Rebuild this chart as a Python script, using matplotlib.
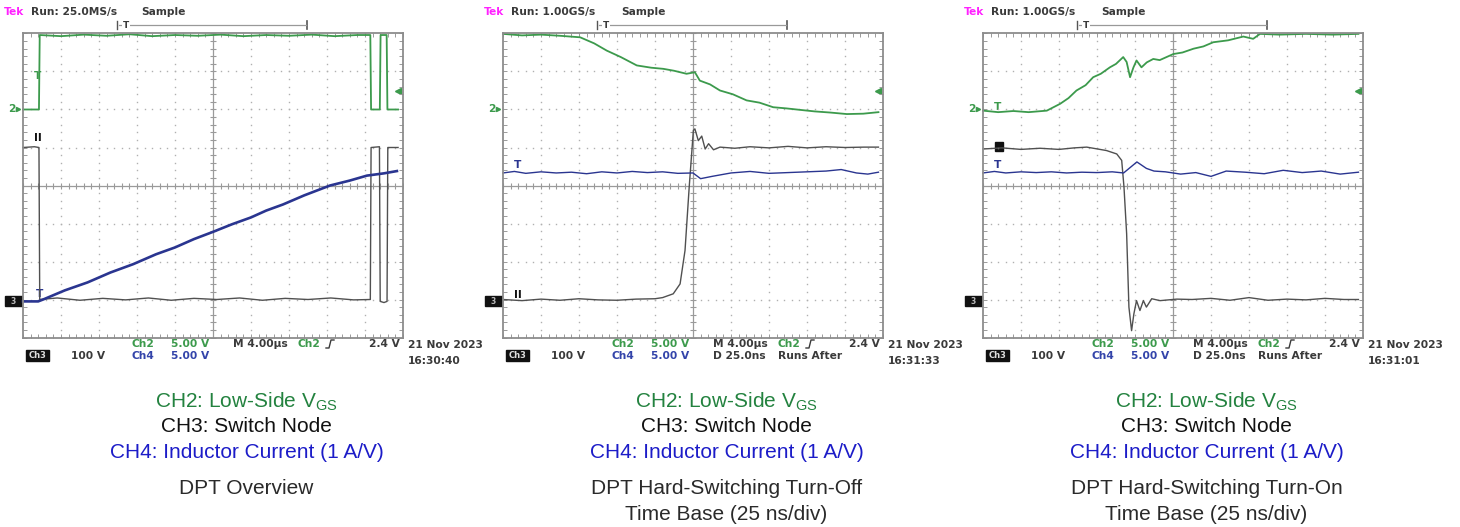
import matplotlib.pyplot as plt
import numpy as np
from matplotlib.patches import Rectangle

plt.rcParams['mathtext.fontset'] = 'custom'
plt.rcParams['mathtext.rm'] = 'Liberation Sans'

# ---- trace data, in scope divisions (x: 0..10, y: -4..4) ----
# panel 1: DPT overview
p1_ch2_x = [0.0, 0.42, 0.44, 1.0, 1.6, 2.2, 2.8, 3.4, 4.0, 4.6, 5.2, 5.8, 6.4, 7.0, 7.6, 8.2, 8.8,
            9.14, 9.16, 9.39, 9.41, 9.57, 9.59, 9.87]
p1_ch2_y = [2.0, 2.0, 3.96, 3.93, 3.97, 3.94, 3.98, 3.93, 3.96, 3.94, 3.97, 3.93, 3.96, 3.94, 3.97,
            3.93, 3.96, 3.96, 2.0, 2.0, 3.96, 3.96, 2.0, 2.0]
p1_ch3_x = [0.0, 0.3, 0.42, 0.44, 0.9, 1.5, 2.1, 2.7, 3.3, 3.9, 4.5, 5.1, 5.7, 6.3, 6.9, 7.5, 8.1,
            8.7, 9.14, 9.16, 9.38, 9.40, 9.50, 9.58, 9.60, 9.87]
p1_ch3_y = [1.0, 1.02, 1.0, -3.0, -2.96, -3.02, -2.97, -3.01, -2.96, -3.02, -2.97, -3.0, -2.96,
            -3.02, -2.97, -3.0, -2.96, -3.01, -3.0, 1.0, 1.02, -3.05, -3.08, -3.05, 1.0, 1.0]
p1_ch4_x = [0.0, 0.4, 0.53, 1.1, 1.7, 2.3, 2.9, 3.5, 4.0, 4.5, 5.0, 5.5, 6.0, 6.4, 6.84, 7.4,
            8.08, 8.6, 9.05, 9.5, 9.84]
p1_ch4_y = [-3.05, -3.05, -3.0, -2.76, -2.55, -2.29, -2.07, -1.81, -1.63, -1.41, -1.22, -1.02, -0.84,
            -0.66, -0.50, -0.26, 0.0, 0.13, 0.26, 0.32, 0.38]

# panel 2: hard-switching turn-off
p2_ch2_x = [0.0, 0.5, 1.0, 1.5, 2.03, 2.4, 2.73, 3.1, 3.52, 3.9, 4.22, 4.5, 4.83, 5.05, 5.18, 5.45,
            5.71, 6.05, 6.41, 6.75, 7.11, 7.45, 7.82, 8.2, 8.61, 9.05, 9.48, 9.88]
p2_ch2_y = [3.99, 3.95, 3.97, 3.94, 3.90, 3.74, 3.55, 3.38, 3.16, 3.10, 3.07, 3.02, 2.94, 2.98, 2.76,
            2.66, 2.50, 2.40, 2.24, 2.18, 2.06, 2.03, 1.99, 1.95, 1.92, 1.88, 1.89, 1.93]
p2_ch3_x = [0.0, 0.5, 1.0, 1.5, 2.0, 2.5, 3.0, 3.5, 4.0, 4.2, 4.48, 4.66, 4.79, 4.90, 5.01, 5.05,
            5.14, 5.23, 5.32, 5.41, 5.54, 5.71, 6.1, 6.5, 7.0, 7.5, 8.0, 8.5, 9.0, 9.5, 9.88]
p2_ch3_y = [-3.0, -3.03, -2.99, -3.02, -2.98, -3.01, -3.02, -2.99, -2.98, -2.95, -2.85, -2.59, -1.71,
            -0.04, 1.45, 1.49, 1.18, 1.30, 0.96, 1.10, 0.94, 1.01, 0.98, 1.02, 0.99, 1.03, 0.99, 1.02,
            1.0, 1.01, 1.01]
p2_ch4_x = [0.0, 0.3, 0.6, 1.0, 1.4, 1.8, 2.2, 2.6, 3.0, 3.4, 3.8, 4.2, 4.6, 5.0, 5.2, 5.5, 6.0,
            6.5, 7.0, 7.5, 8.0, 8.5, 8.9, 9.3, 9.6, 9.88]
p2_ch4_y = [0.33, 0.37, 0.32, 0.36, 0.33, 0.35, 0.31, 0.36, 0.33, 0.37, 0.34, 0.36, 0.32, 0.33, 0.18,
            0.24, 0.33, 0.37, 0.32, 0.34, 0.36, 0.38, 0.42, 0.33, 0.30, 0.35]

# panel 3: hard-switching turn-on
p3_ch2_x = [0.0, 0.4, 0.8, 1.2, 1.68, 2.03, 2.25, 2.46, 2.7, 2.90, 3.1, 3.34, 3.5, 3.69, 3.78, 3.87,
            3.96, 4.04, 4.17, 4.31, 4.48, 4.65, 4.83, 5.01, 5.25, 5.54, 5.8, 6.06, 6.45, 6.85,
            7.11, 7.29, 7.8, 8.5, 9.2, 9.88]
p3_ch2_y = [1.97, 1.93, 1.96, 1.93, 1.97, 2.15, 2.30, 2.50, 2.64, 2.85, 2.94, 3.11, 3.20, 3.38, 3.25,
            2.85, 3.11, 3.29, 3.11, 3.24, 3.33, 3.30, 3.38, 3.46, 3.50, 3.60, 3.66, 3.77, 3.82, 3.92,
            3.86, 3.99, 3.97, 3.99, 3.97, 3.99]
p3_ch3_x = [0.0, 0.5, 1.0, 1.5, 2.0, 2.4, 2.73, 3.25, 3.52, 3.65, 3.71, 3.78, 3.84, 3.91, 3.97, 4.04,
            4.13, 4.22, 4.30, 4.44, 4.66, 5.1, 5.5, 6.0, 6.5, 7.0, 7.5, 8.0, 8.5, 9.0, 9.5, 9.88]
p3_ch3_y = [0.96, 0.99, 0.95, 0.98, 0.95, 0.99, 1.01, 0.92, 0.83, 0.66, -0.04, -1.27, -3.2, -3.82,
            -3.38, -3.03, -3.29, -3.03, -3.2, -2.98, -3.03, -2.99, -3.0, -2.97, -3.02, -2.95, -3.02,
            -2.99, -3.01, -2.97, -3.0, -3.0]
p3_ch4_x = [0.0, 0.3, 0.6, 1.0, 1.4, 1.8, 2.2, 2.6, 3.0, 3.4, 3.7, 4.05, 4.3, 4.5, 4.8, 5.2, 5.6,
            6.0, 6.4, 6.9, 7.4, 7.9, 8.4, 8.9, 9.4, 9.88]
p3_ch4_y = [0.33, 0.37, 0.33, 0.36, 0.34, 0.36, 0.33, 0.35, 0.34, 0.36, 0.33, 0.62, 0.45, 0.38, 0.36,
            0.30, 0.34, 0.24, 0.38, 0.35, 0.31, 0.40, 0.34, 0.38, 0.30, 0.35]

sample_rates = ['25.0MS/s', '1.00GS/s', '1.00GS/s']
timestamps = ['16:30:40', '16:31:33', '16:31:01']
titles = [['DPT Overview'],
          ['DPT Hard-Switching Turn-Off', 'Time Base (25 ns/div)'],
          ['DPT Hard-Switching Turn-On', 'Time Base (25 ns/div)']]
traces = [
    (p1_ch2_x, p1_ch2_y, p1_ch3_x, p1_ch3_y, p1_ch4_x, p1_ch4_y),
    (p2_ch2_x, p2_ch2_y, p2_ch3_x, p2_ch3_y, p2_ch4_x, p2_ch4_y),
    (p3_ch2_x, p3_ch2_y, p3_ch3_x, p3_ch3_y, p3_ch4_x, p3_ch4_y),
]

W, H = 1460, 527
GREEN = '#3c9a4c'
BLUE = '#2a3590'
TRACE_BLACK = '#505050'
GRID = '#8c8c8c'
TXT = '#3a3a3a'
SCOPE_FONT = dict(family='DejaVu Sans', fontsize=7.7, fontweight='bold')

fig = plt.figure(figsize=(W / 100, H / 100), dpi=100)
bg = fig.add_axes([0, 0, 1, 1])
bg.set_xlim(0, W)
bg.set_ylim(H, 0)
bg.axis('off')


def scope_axes(x0):
    ax = fig.add_axes([x0 / W, (H - 337.5) / H, 380 / W, 304 / H])
    ax.set_xlim(0, 10)
    ax.set_ylim(-4, 4)
    ax.patch.set_alpha(0)
    fine = np.linspace(0, 10, 51)
    fine_y = np.linspace(-4, 4, 41)
    for gx in range(1, 10):
        if gx != 5:
            ax.plot([gx] * len(fine_y), fine_y, ls='none', marker='s', ms=1.0, mew=0, color='#b0b0b0')
    for gy in range(-3, 4):
        if gy != 0:
            ax.plot(fine, [gy] * len(fine), ls='none', marker='s', ms=1.0, mew=0, color='#b0b0b0')
    ax.axhline(0, color='#9a9a9a', lw=0.9)
    ax.axvline(5, color='#9a9a9a', lw=0.9)
    ax.plot(fine, [0] * len(fine), ls='none', marker='|', ms=4, mew=0.8, color='#9a9a9a')
    ax.plot([5] * len(fine_y), fine_y, ls='none', marker='_', ms=4, mew=0.8, color='#9a9a9a')
    ax.set_xticks(fine)
    ax.set_yticks(fine_y)
    ax.tick_params(direction='in', length=3, width=0.7, color='#9a9a9a', top=True, right=True,
                   labelbottom=False, labelleft=False)
    for s in ax.spines.values():
        s.set_color(GRID)
        s.set_linewidth(1.3)
    return ax


for i, (c2x, c2y, c3x, c3y, c4x, c4y) in enumerate(traces):
    off = 480 * i
    ax = scope_axes(23 + off)
    ax.plot(c3x, c3y, color=TRACE_BLACK, lw=1.0, clip_on=False)
    ax.plot(c4x, c4y, color=BLUE, lw=1.9 if i == 0 else 1.0, clip_on=False)
    ax.plot(c2x, c2y, color=GREEN, lw=1.3, clip_on=False)

    # header
    bg.text(4 + off, 12, 'Tek', color='#ff22ff', va='center', **SCOPE_FONT)
    bg.text(31 + off, 12, 'Run: ' + sample_rates[i], color=TXT, va='center', **SCOPE_FONT)
    bg.text(141 + off, 12, 'Sample', color=TXT, va='center', **SCOPE_FONT)
    bg.plot([117 + off, 117 + off], [21, 29], color='#555555', lw=1.0)
    bg.plot([307 + off, 307 + off], [21, 29], color='#555555', lw=1.2)
    bg.plot([119 + off, 306 + off], [25, 25], color='#999999', lw=0.9)
    bg.text(126 + off, 25, 'T', color=TXT, va='center', ha='center', family='DejaVu Sans',
            fontsize=6.5, fontweight='bold', bbox=dict(fc='white', ec='none', pad=0.3))

    # left-side markers
    bg.text(12 + off, 109, '2', color=GREEN, va='center', ha='center', **SCOPE_FONT)
    bg.plot([18 + off], [109], marker='>', ms=3, color=GREEN)
    bg.add_patch(Rectangle((5 + off, 296), 17, 10, color='#111111'))
    bg.text(13 + off, 301, '3', color='#bbbbbb', va='center', ha='center', family='DejaVu Sans',
            fontsize=5.5, fontweight='bold')
    # trigger level arrow on right
    bg.plot([398 + off], [91], marker='<', ms=4, color=GREEN)

    # footer
    bg.add_patch(Rectangle((26 + off, 350), 23, 11, color='#111111'))
    bg.text(37.5 + off, 355.5, 'Ch3', color='#dddddd', va='center', ha='center', family='DejaVu Sans',
            fontsize=6, fontweight='bold')
    bg.text(71 + off, 356, '100 V', color=TXT, va='center', **SCOPE_FONT)
    bg.text(131 + off, 344, 'Ch2', color=GREEN, va='center', **SCOPE_FONT)
    bg.text(171 + off, 344, '5.00 V', color=GREEN, va='center', **SCOPE_FONT)
    bg.text(131 + off, 356, 'Ch4', color='#3344aa', va='center', **SCOPE_FONT)
    bg.text(171 + off, 356, '5.00 V', color='#3344aa', va='center', **SCOPE_FONT)
    bg.text(233 + off, 344, 'M 4.00µs', color=TXT, va='center', **SCOPE_FONT)
    bg.text(298 + off, 344, 'Ch2', color=GREEN, va='center', **SCOPE_FONT)
    bg.plot([326 + off, 329 + off, 331 + off, 334 + off], [348, 348, 340, 340], color=TXT, lw=1.0)
    bg.text(400 + off, 344, '2.4 V', color=TXT, va='center', ha='right', **SCOPE_FONT)
    bg.text(408 + off, 345, '21 Nov 2023', color=TXT, va='center', **SCOPE_FONT)
    bg.text(408 + off, 361, timestamps[i], color=TXT, va='center', **SCOPE_FONT)
    if i > 0:
        bg.text(233 + off, 356, 'D 25.0ns', color=TXT, va='center', **SCOPE_FONT)
        bg.text(298 + off, 356, 'Runs After', color=TXT, va='center', **SCOPE_FONT)

    # captions
    cx = 246.5 + off
    cap = dict(family='Liberation Sans', fontsize=15, ha='center', va='center')
    bg.text(cx, 402, 'CH2: Low-Side V$_{\\mathrm{GS}}$', color='#23823f', **cap)
    bg.text(cx, 427, 'CH3: Switch Node', color='#111111', **cap)
    bg.text(cx, 452, 'CH4: Inductor Current (1 A/V)', color='#1c1cc8', **cap)
    for k, t in enumerate(titles[i]):
        bg.text(cx, 489 + 25 * k, t, color='#2a2a2a', **cap)

# channel marker glyphs on traces
bg.text(38, 76, 'T', color=GREEN, va='center', ha='center', **SCOPE_FONT)
bg.text(40, 294, 'T', color=BLUE, va='center', ha='center', **SCOPE_FONT)
bg.text(38, 138, 'II', color='#111111', va='center', ha='center', **SCOPE_FONT)
bg.text(38 + 480, 165, 'T', color=BLUE, va='center', ha='center', **SCOPE_FONT)
bg.text(38 + 480, 295, 'II', color='#111111', va='center', ha='center', **SCOPE_FONT)
bg.text(38 + 960, 107, 'T', color=GREEN, va='center', ha='center', **SCOPE_FONT)
bg.text(38 + 960, 165, 'T', color=BLUE, va='center', ha='center', **SCOPE_FONT)
bg.add_patch(Rectangle((35 + 960, 142), 8, 9, color='#111111'))

fig.savefig('out.png', dpi=100)
